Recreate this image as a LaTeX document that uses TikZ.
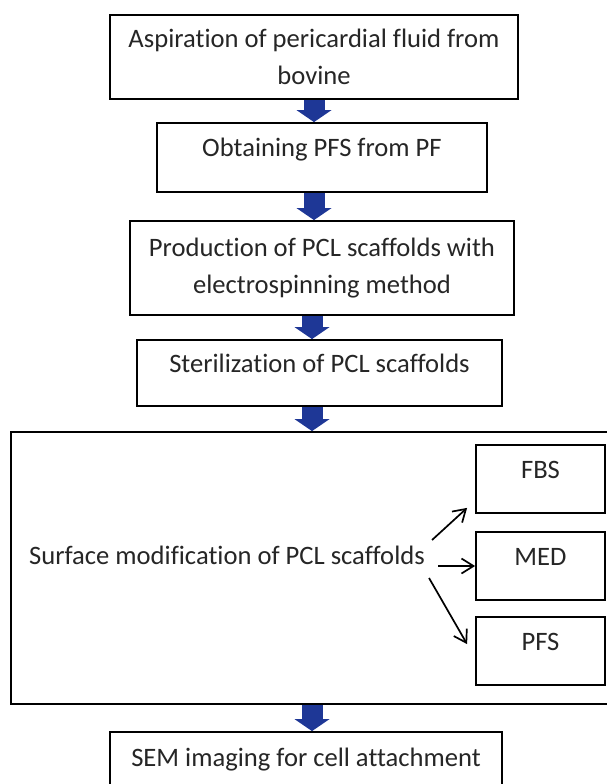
\documentclass[tikz,border=0pt]{standalone}
\usepackage{fontspec}
\setmainfont{Carlito}[Ligatures=NoCommon]
\usetikzlibrary{arrows.meta}
\definecolor{flowblue}{RGB}{30,55,150}

\begin{document}
\begin{tikzpicture}[x=1pt,y=-1pt,font=\fontsize{26.6}{37}\selectfont,text=black!85,
    stepbox/.style={draw, line width=1.8pt, align=center, inner sep=0pt},
    uptext/.style={text height=18pt, text depth=20pt},
    blockarrow/.style={flowblue, line width=21pt, -{Triangle[width=35pt,length=12pt,line width=0pt]}},
    thinarrow/.style={line width=1.7pt, -{Straight Barb[length=12pt,width=15pt]}}]
    \useasboundingbox[fill=white] (0,0) rectangle (606,784);

    \node (asp) [stepbox, minimum width=408pt, minimum height=84pt] at (314,57) {Aspiration of pericardial fluid from\\bovine};
    \node (obtain) [stepbox, uptext, minimum width=330pt, minimum height=69pt] at (322,157.5) {Obtaining PFS from PF};
    \node (prod) [stepbox, minimum width=384pt, minimum height=94pt] at (322,268) {Production of PCL scaffolds with\\electrospinning method};
    \node (ster) [stepbox, uptext, minimum width=365pt, minimum height=66pt] at (319.5,373) {Sterilization of PCL scaffolds};
    \node (modif) [stepbox, minimum width=604pt, minimum height=272pt] at (313,568) {};
    \node (surf) [inner sep=0pt] at (227,555) {Surface modification of PCL scaffolds};
    \node (fbs) [stepbox, uptext, minimum width=129pt, minimum height=68pt] at (540.5,479) {FBS};
    \node (med) [stepbox, uptext, minimum width=129pt, minimum height=68pt] at (540.5,566) {MED};
    \node (pfs) [stepbox, uptext, minimum width=129pt, minimum height=68pt] at (540.5,651) {PFS};
    \node (sem) [stepbox, uptext, minimum width=392pt, minimum height=70pt] at (306,767) {SEM imaging for cell attachment};
    \coordinate (spine) at (312,0);

    % main flow
    \draw [blockarrow] (asp.south) -- (asp.south |- obtain.north);
    \draw [blockarrow] (asp.south |- obtain.south) -- (asp.south |- prod.north);
    \draw [blockarrow] (spine |- prod.south) -- (spine |- ster.north);
    \draw [blockarrow] (spine |- ster.south) -- (spine |- modif.north);
    \draw [blockarrow] (spine |- modif.south) -- (spine |- sem.north);

    % media
    \draw [thinarrow] ([xshift=7pt,yshift=15pt]surf.east) -- ([xshift=-8pt,yshift=6pt]fbs.south west);
    \draw [thinarrow] ([xshift=13pt]surf.east |- med.west) -- (med.west);
    \draw [thinarrow] ([xshift=4pt,yshift=-23pt]surf.east) -- ([xshift=-8pt,yshift=-28pt]pfs.north west);
\end{tikzpicture}
\end{document}
